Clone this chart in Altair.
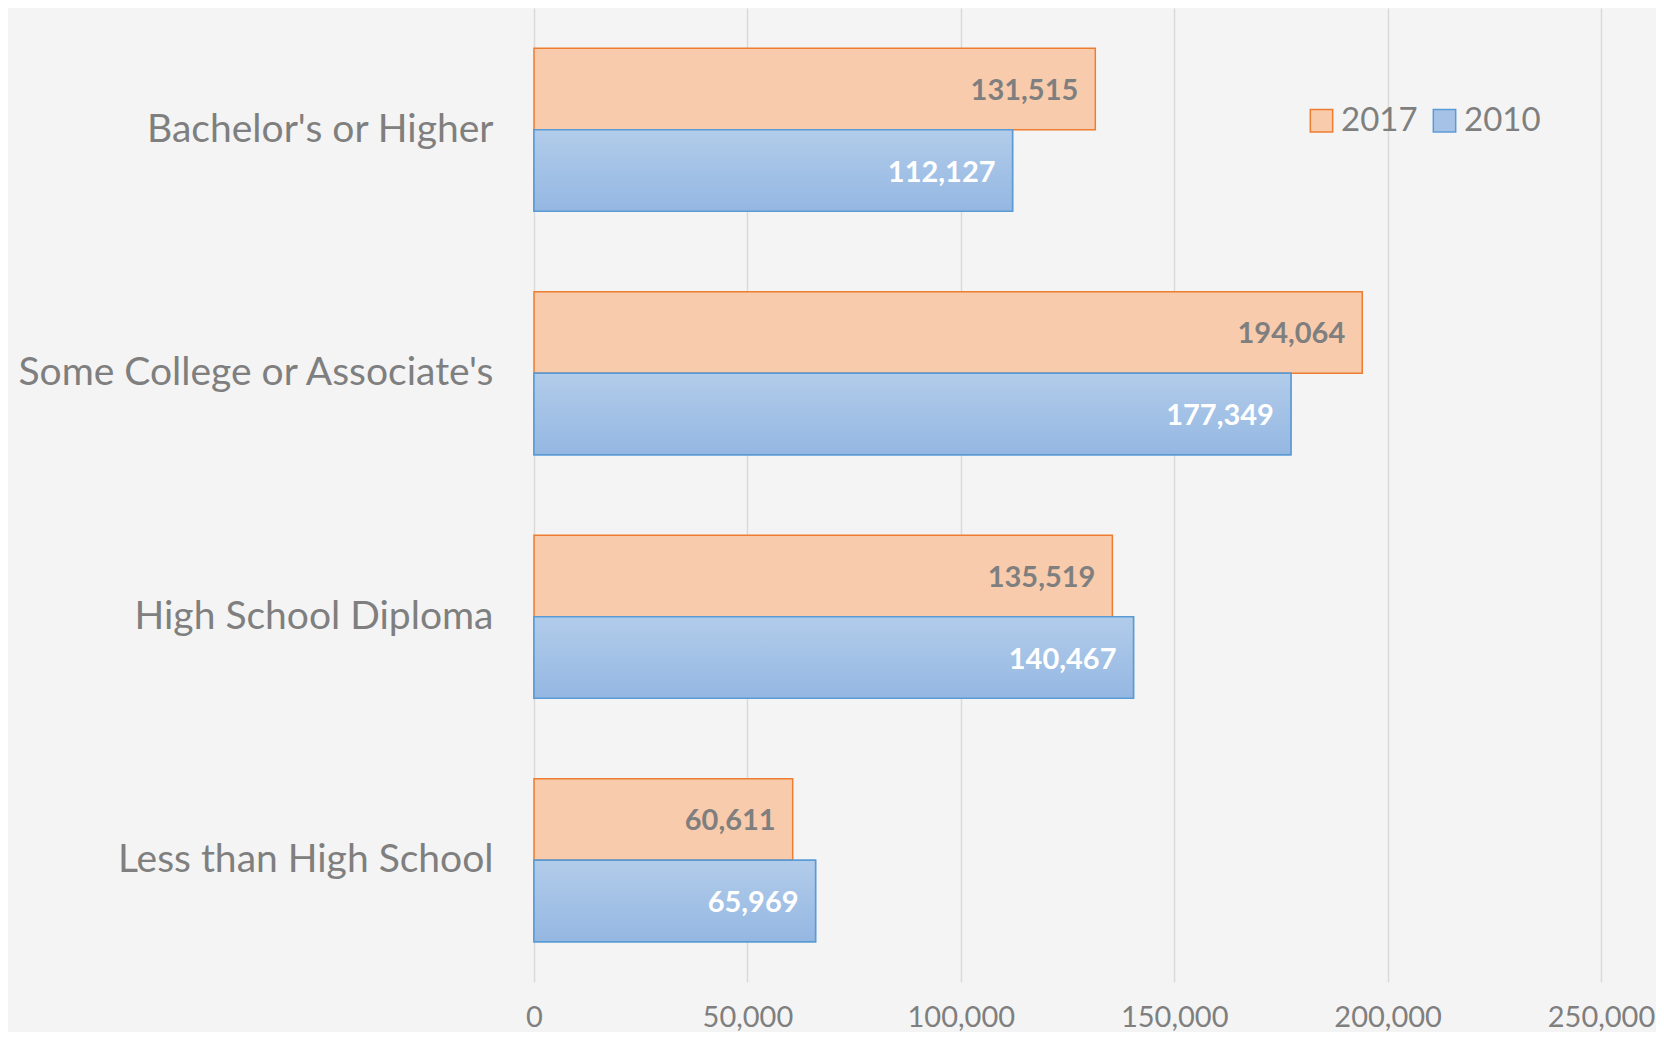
import altair as alt
import pandas as pd

categories = ["Bachelor's or Higher", "Some College or Associate's",
              "High School Diploma", "Less than High School"]
years = ["2017", "2010"]
values_2017 = [131515, 194064, 135519, 60611]
values_2010 = [112127, 177349, 140467, 65969]
x_ticks = [0, 50000, 100000, 150000, 200000, 250000]

rows = []
for c, v17, v10 in zip(categories, values_2017, values_2010):
    rows.append({"level": c, "year": "2017", "value": v17})
    rows.append({"level": c, "year": "2010", "value": v10})
df = pd.DataFrame(rows)

FONT = "Lato"
GRAY = "#7F7F7F"

x_enc = alt.X(
    "value:Q",
    scale=alt.Scale(domain=[0, 250000], nice=False),
    axis=alt.Axis(values=x_ticks, format=",d", grid=True, gridColor="#D9D9D9",
                  gridWidth=1.5, domain=False, ticks=False, labelFontSize=29,
                  labelColor=GRAY, labelFont=FONT, labelPadding=21,
                  labelFlush=False, labelOverlap=False, title=None),
)
y_enc = alt.Y(
    "level:N", sort=categories,
    scale=alt.Scale(domain=categories, paddingInner=0.33, paddingOuter=0.165),
    axis=alt.Axis(domain=False, ticks=False, grid=False, labelFontSize=39,
                  labelColor=GRAY, labelFont=FONT, labelPadding=41,
                  labelLimit=0, title=None),
)
yoff = alt.YOffset("year:N", sort=years,
                   scale=alt.Scale(domain=years, paddingInner=0, paddingOuter=0))

legend = alt.Legend(orient="none", legendX=771, legendY=96, direction="horizontal",
                    title=None, symbolType="square", symbolSize=500,
                    symbolStrokeWidth=1.5, labelFontSize=33, labelFont=FONT,
                    labelColor=GRAY, labelOffset=3, columnPadding=10, padding=0)

base = alt.Chart(df).encode(y=y_enc, yOffset=yoff, x=x_enc)

bars = base.mark_bar(strokeWidth=1.5).encode(
    fill=alt.Fill("year:N", scale=alt.Scale(domain=years, range=["#F8CBAD", "#A6C3E7"]),
                  legend=legend),
    stroke=alt.Stroke("year:N", scale=alt.Scale(domain=years, range=["#ED7D31", "#5B9BD5"]),
                      legend=legend),
)

grad = base.transform_filter(alt.datum.year == "2010").mark_bar(
    fill=alt.LinearGradient(
        gradient="linear",
        stops=[alt.GradientStop(color="#B2CCEA", offset=0),
               alt.GradientStop(color="#94B7E2", offset=1)],
        x1=0, x2=0, y1=0, y2=1),
    stroke="#5B9BD5", strokeWidth=1.5,
)

labels = base.mark_text(align="right", baseline="middle", dx=-17, dy=2, font=FONT,
                        fontSize=29, fontWeight="bold").encode(
    text=alt.Text("value:Q", format=",d"),
    color=alt.condition(alt.datum.year == "2010", alt.value("white"), alt.value("#7F7F7F")),
)

chart = alt.layer(bars, grad, labels).properties(
    width=1067, height=974, background="#F4F4F4",
    padding={"left": 526, "top": 0, "right": 55, "bottom": 50},
    autosize="none",
).configure_view(stroke=None)

chart.save("out.html", embed_options={"renderer": "svg", "actions": False})
